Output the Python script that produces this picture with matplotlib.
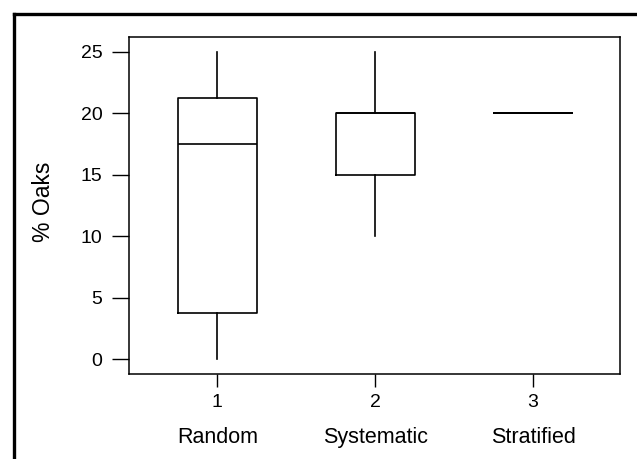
import matplotlib
matplotlib.use('Agg')
import matplotlib.pyplot as plt
from matplotlib.lines import Line2D

plt.rcParams['font.family'] = ['Liberation Sans', 'DejaVu Sans']

groups = ['Random', 'Systematic', 'Stratified']
positions = [1, 2, 3]
whis_lo = [0, 10, 20]
q1 = [3.75, 15, 20]
med = [17.5, 20, 20]
q3 = [21.25, 20, 20]
whis_hi = [25, 25, 20]

stats = []
for i in range(len(groups)):
    stats.append({'whislo': whis_lo[i], 'q1': q1[i], 'med': med[i],
                  'q3': q3[i], 'whishi': whis_hi[i], 'fliers': []})

fig = plt.figure(figsize=(6.37, 4.59), dpi=100)
ax = fig.add_axes([0.2025, 0.185, 0.7705, 0.734])

lw = 1.2
ax.bxp(stats, positions=positions, widths=0.5, showcaps=False,
       boxprops=dict(color='black', linewidth=lw),
       medianprops=dict(color='black', linewidth=lw),
       whiskerprops=dict(color='black', linewidth=lw))

ax.set_xlim(0.44, 3.55)
ax.set_ylim(-1.2, 26.2)
ax.set_yticks([0, 5, 10, 15, 20, 25])
ax.set_xticks(positions)
ax.set_xticklabels(['1', '2', '3'])
ax.tick_params(axis='y', direction='out', length=12, width=1, labelsize=14, pad=7)
ax.tick_params(axis='x', direction='out', length=9.5, width=1, labelsize=14, pad=5)
for s in ax.spines.values():
    s.set_linewidth(1.1)

for x, name in zip(positions, groups):
    ax.text(x, -0.187, name, transform=ax.get_xaxis_transform(),
            ha='center', va='center', fontsize=15.5)

fig.text(44 / 637, 1 - 202 / 459, '% Oaks', rotation=90, ha='center',
         va='center', fontsize=16.5)

# outer frame (top and left edges only)
fig.add_artist(Line2D([14 / 637, 1.0], [1 - 14 / 459, 1 - 14 / 459],
                      transform=fig.transFigure, color='black', linewidth=2.4))
fig.add_artist(Line2D([14 / 637, 14 / 637], [0, 1 - 14 / 459],
                      transform=fig.transFigure, color='black', linewidth=2.4))

fig.savefig('out.png', dpi=100)
